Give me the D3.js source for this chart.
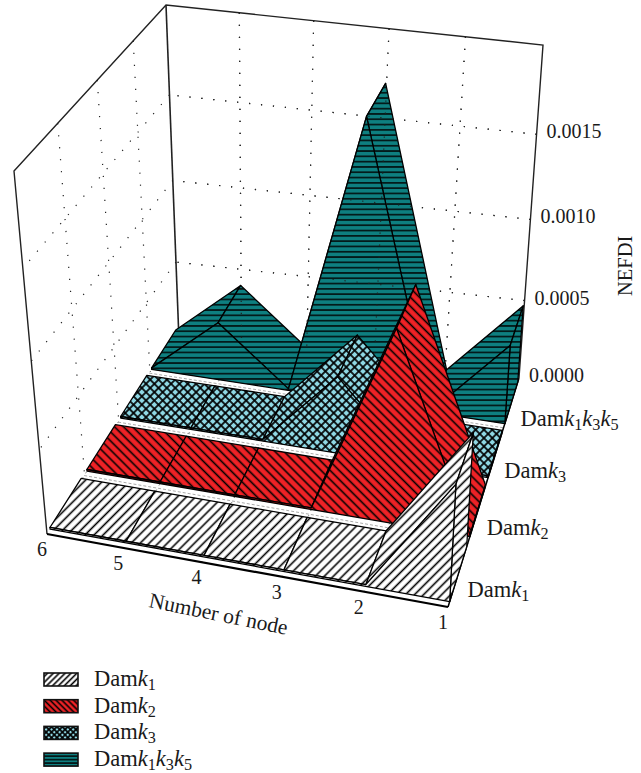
<!DOCTYPE html>
<html>
<head>
<meta charset="utf-8">
<script src="https://cdn.jsdelivr.net/npm/d3@7"></script>
<style>
  html, body { margin: 0; padding: 0; background: #fff; }
  text { font-family: "Liberation Serif", serif; fill: #1a1a1a; }
</style>
</head>
<body>
<div id="root"></div>
<script>
const nodes = [6, 5, 4, 3, 2, 1]
const seriesNames = ["Damk1", "Damk2", "Damk3", "Damk1k3k5"]
const damk1 = [0.00001, 0.00001, 0.00001, 0.00001, 0.00001, 0.00066]
const damk2 = [0.00001, 0.00001, 0.00001, 0.00001, 0.00112, 0.00001]
const damk3 = [0.00001, 0.00001, 0.00001, 0.00047, 0.00001, 0.00001]
const damk1k3k5 = [0.00001, 0.00037, 0.00001, 0.00171, 0.00001, 0.00049]
const seriesValues = [damk1, damk2, damk3, damk1k3k5]
const seriesColors = ["#ffffff", "#ee2226", "#8fd8e4", "#0e7f80"]
const zTicks = [0, 0.0005, 0.001, 0.0015]

const w = 641
const h = 773

const xScale = d3.scalePoint().domain(nodes).range([0, 1])
const yScale = d3.scaleBand().domain(seriesNames).range([0, 1]).paddingInner(0.16).paddingOuter(0.08)
const zScale = d3.scaleLinear().domain([0, 0.002]).range([0, 1])

// unit square to a screen quad, corners (0,0) (1,0) (1,1) (0,1)
function quadMap(p0, p1, p2, p3) {
    const dx1 = p1[0] - p2[0], dx2 = p3[0] - p2[0], sx = p0[0] - p1[0] + p2[0] - p3[0]
    const dy1 = p1[1] - p2[1], dy2 = p3[1] - p2[1], sy = p0[1] - p1[1] + p2[1] - p3[1]
    const den = dx1 * dy2 - dx2 * dy1
    const g = (sx * dy2 - dx2 * sy) / den
    const k = (dx1 * sy - sx * dy1) / den
    const a = p1[0] - p0[0] + g * p1[0], b = p3[0] - p0[0] + k * p3[0]
    const d = p1[1] - p0[1] + g * p1[1], e = p3[1] - p0[1] + k * p3[1]
    return (u, v) => {
        const W = g * u + k * v + 1
        return [(a * u + b * v + p0[0]) / W, (d * u + e * v + p0[1]) / W]
    }
}

// u along nodes, v into the page, t up. Heights stretch a bit toward the top
const rho = 1.1
const rise = t => t / (t + (1 - t) * rho)
const topMap = quadMap([14, 171], [468, 227], [543, 45], [166, 5])
function makeProjection(floorMap) {
    return (u, v, t) => {
        const f = floorMap(u, v), c = topMap(u, v), s = rise(t)
        return [f[0] + (c[0] - f[0]) * s, f[1] + (c[1] - f[1]) * s]
    }
}

const frontLeft = [47, 534], frontRight = [448, 607], backRight = [519, 378]
// the wall grid sits a little lower at the back left than the ribbons do
const project = makeProjection(quadMap(frontLeft, frontRight, backRight, [178, 328]))
const wall = makeProjection(quadMap(frontLeft, frontRight, backRight, [179, 340]))

const svg = d3.select("#root").append("svg").attr("width", w).attr("height", h)
const defs = svg.append("defs")

function addPattern(id, color, spacing, angle) {
    const pat = defs.append("pattern").attr("id", id)
        .attr("patternUnits", "userSpaceOnUse")
        .attr("width", spacing).attr("height", spacing)
        .attr("patternTransform", `rotate(${angle})`)
    pat.append("rect").attr("width", spacing).attr("height", spacing).attr("fill", color)
    return pat
}
function hatch(id, color, spacing, angle, sw) {
    addPattern(id, color, spacing, angle)
        .append("line").attr("x1", spacing / 2).attr("x2", spacing / 2).attr("y1", 0).attr("y2", spacing)
        .attr("stroke", "#000").attr("stroke-width", sw)
}
function crossHatch(id, color, spacing, sw) {
    const pat = addPattern(id, color, spacing, 45)
    pat.append("line").attr("x1", spacing / 2).attr("x2", spacing / 2).attr("y1", 0).attr("y2", spacing)
        .attr("stroke", "#000").attr("stroke-width", sw)
    pat.append("line").attr("y1", spacing / 2).attr("y2", spacing / 2).attr("x1", 0).attr("x2", spacing)
        .attr("stroke", "#000").attr("stroke-width", sw)
}
function addSet(prefix, s) {
    hatch(prefix + 0, seriesColors[0], 6.4 * s, 45, 1.6)
    hatch(prefix + 1, seriesColors[1], 6.4 * s, -45, 1.6)
    crossHatch(prefix + 2, seriesColors[2], 5.9 * s, 1.7)
    hatch(prefix + 3, seriesColors[3], 5.3 * s, 90, 1.4)
}
addSet("fill", 1)
addSet("key", 0.65)

const poly = d3.line().curve(d3.curveLinearClosed)
const seg = d3.line()

const gridStyle = sel => sel.attr("fill", "none").attr("stroke", "#222")
    .attr("stroke-width", 1.2).attr("stroke-dasharray", "1.2 10.8")

// walls
function drawWallGrid(g) {
    zTicks.slice(1).forEach(z => {
        const t = zScale(z)
        g.append("path").call(gridStyle).attr("d", seg([wall(1, 1, t), wall(0, 1, t)]))
    })
    nodes.slice(1, -1).forEach(n => {
        g.append("path").call(gridStyle).attr("d", seg([wall(xScale(n), 1, 1), wall(xScale(n), 1, 0)]))
    })
}
const leftGrid = svg.append("g")
zTicks.slice(1).forEach(z => {
    const t = zScale(z)
    leftGrid.append("path").call(gridStyle).attr("d", seg([wall(0, 1, t), wall(0, 0, t)]))
})
yScale.domain().slice(1).forEach(s => {
    const v = yScale(s) - yScale.step() * yScale.paddingInner() / 2
    leftGrid.append("path").call(gridStyle).attr("d", seg([wall(0, v, 1), wall(0, v, 0)]))
})
drawWallGrid(svg.append("g"))

// floor lines in the gaps between ribbons
const floorGrid = svg.append("g")
yScale.domain().slice(1).forEach(s => {
    const v = yScale(s) - yScale.step() * yScale.paddingInner() / 2
    floorGrid.append("path").attr("fill", "none").attr("stroke", "#aaa").attr("stroke-dasharray", "3 2")
        .attr("d", seg([project(0, v, 0), project(1, v, 0)]))
})
nodes.forEach(n => {
    floorGrid.append("path").attr("fill", "none").attr("stroke", "#444").attr("stroke-dasharray", "1 5")
        .attr("d", seg([project(xScale(n), 0, 0), project(xScale(n), 1, 0)]))
})

const box = svg.append("g").attr("fill", "none").attr("stroke", "#222")
box.append("path").attr("stroke-width", 1.4)
    .attr("d", seg([wall(0, 0, 0), wall(0, 0, 1), wall(0, 1, 1), wall(1, 1, 1), wall(1, 1, 0)]))
box.append("path").attr("stroke-width", 1.6).attr("d", seg([wall(0, 1, 1), wall(0, 1, 0)]))

svg.append("path").attr("fill", "none").attr("stroke", "#000").attr("stroke-width", 2.2)
    .attr("d", seg([frontLeft, frontRight]))
svg.append("path").attr("fill", "none").attr("stroke", "#000").attr("stroke-width", 1.5)
    .attr("d", seg([frontRight, backRight]))

// ribbons, back one first
const ribbons = svg.append("g").attr("stroke", "#000").attr("stroke-width", 1.3).attr("stroke-linejoin", "round")
d3.range(seriesNames.length - 1, -1, -1).forEach(i => {
    const name = seriesNames[i]
    const vals = seriesValues[i]
    const v0 = yScale(name), v1 = v0 + yScale.bandwidth()
    const g = ribbons.append("g").attr("fill", `url(#fill${i})`)
    const us = nodes.map(n => xScale(n))

    d3.pairs(d3.range(nodes.length)).forEach(([a, b]) => {
        g.append("path").attr("d", poly([
            project(us[a], v0, zScale(vals[a])), project(us[b], v0, zScale(vals[b])),
            project(us[b], v1, zScale(vals[b])), project(us[a], v1, zScale(vals[a]))
        ]))
    })
    const last = nodes.length - 1
    g.append("path").attr("d", poly([
        project(us[last], v0, 0),
        project(us[last], v0, zScale(vals[last])),
        project(us[last], v1, zScale(vals[last])),
        project(us[last], v1, 0)
    ]))
    g.append("path").attr("d", poly(
        us.map((u, j) => project(u, v0, zScale(vals[j])))
            .concat([project(us[last], v0, 0), project(us[0], v0, 0)])
    ))
    // the back wall dots show through the tall teal ribbon
    if (i === seriesNames.length - 1) drawWallGrid(ribbons.append("g"))
})

// Damk1k3k5 -> Dam, italic k, subscript index
function richLabel(sel, name) {
    sel.append("tspan").text(name.slice(0, 3))
    const parts = name.slice(3).match(/k\d/g)
    parts.forEach((p, i) => {
        sel.append("tspan").attr("font-style", "italic").attr("dy", i ? -4 : null).text(p[0])
        sel.append("tspan").attr("font-size", "72%").attr("dy", 4).text(p[1])
    })
}

// z labels
svg.selectAll("text.ztick").data(zTicks).enter().append("text").attr("class", "ztick")
    .attr("x", d => wall(1, 1, zScale(d))[0] + 10)
    .attr("y", d => wall(1, 1, zScale(d))[1] + 4)
    .attr("font-size", 20)
    .text(d3.format(".4f"))

// node labels
svg.selectAll("text.xtick").data(nodes).enter().append("text").attr("class", "xtick")
    .attr("x", d => project(xScale(d), 0, 0)[0] - 5)
    .attr("y", d => project(xScale(d), 0, 0)[1] + 22)
    .attr("text-anchor", "middle")
    .attr("font-size", 20)
    .text(d => d)

// series labels on the right edge
seriesNames.forEach(name => {
    const c = project(1, yScale(name) + yScale.bandwidth() / 2, 0)
    svg.append("text").attr("x", c[0] + 9).attr("y", c[1] + 24).attr("font-size", 22.5).call(richLabel, name)
})

svg.append("text").attr("transform", "translate(148,607) rotate(11.4)").attr("font-size", 21.5).text("Number of node")
svg.append("text").attr("transform", "translate(632,296) rotate(-90)").attr("font-size", 20.5).text("NEFDI")

// legend
const legend = svg.append("g")
seriesNames.forEach((name, i) => {
    const y = 673 + i * 26.7
    legend.append("rect").attr("x", 44).attr("y", y).attr("width", 34).attr("height", 13)
        .attr("fill", `url(#key${i})`).attr("stroke", "#111").attr("stroke-width", 1.6)
    legend.append("text").attr("x", 94).attr("y", y + 13).attr("font-size", 22.5).call(richLabel, name)
})
</script>
</body>
</html>
